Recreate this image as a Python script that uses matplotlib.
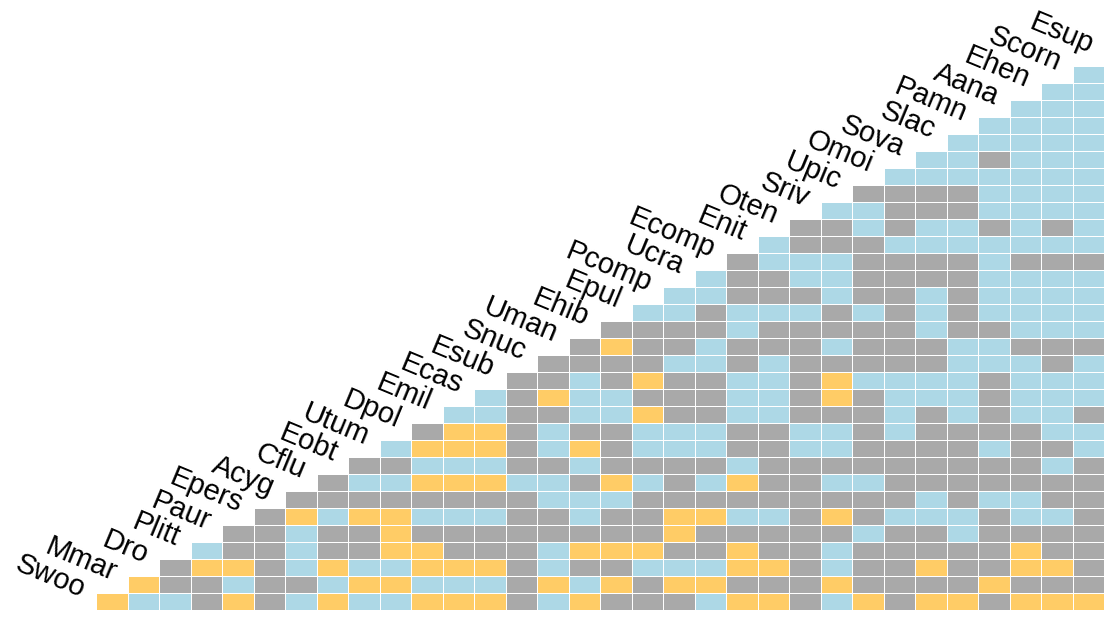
import numpy as np
import matplotlib
matplotlib.use("Agg")
import matplotlib.pyplot as plt
from matplotlib.colors import ListedColormap

# Species, in plotting order (diagonal labels)
species = ["Swoo", "Mmar", "Dro", "Plitt", "Paur", "Epers", "Acyg", "Cflu",
           "Eobt", "Utum", "Dpol", "Emil", "Ecas", "Esub", "Snuc", "Uman",
           "Ehib", "Epul", "Pcomp", "Ucra", "Ecomp", "Enit", "Oten", "Sriv",
           "Upic", "Omoi", "Sova", "Slac", "Pamn", "Aana", "Ehen", "Scorn",
           "Esup"]

# Pair classification for each column (species 2..33), bottom row upward.
# y = negative, g = random, b = positive
pair_columns = [
    "y",
    "by",
    "bgg",
    "ggyb",
    "ybygg",
    "gggggg",
    "bgbbbyg",
    "ybyggbgg",
    "bybggygbg",
    "bybyyygbgb",
    "ybyygbgybyg",
    "ybyggbgybyyb",
    "ybyggbgybyybb",
    "gggggggbgggggg",
    "bybbggbbgbbgygg",
    "ybgygbbgbygbbbgg",
    "gygyggbygggbbggyg",
    "ggbygggbgbbygygggb",
    "gybgyygggbbgggbggbb",
    "bybggygbgbbgggbbggbb",
    "ygyygbgybggbbbggbbggg",
    "ygyggbgggggbbbbggbggbb",
    "gggggggggbbg" + "ggggg" + "bgbbg" + "g",
    "bybbgygbgbbg" + "yygbggbbbg" + "gb",
    "ygggbggbgggg" + "gbgggbgggg" + "bbg",
    "gggggbggggbb" + "bbgggggggb" + "gggb",
    "ygyggbbggggg" + "bbggbbbggb" + "bggbb",
    "ygggbbgggggb" + "bbbbgggggb" + "bggbbb",
    "gyggggbggbgg" + "ggbbgbbbbb" + "gbbbgbb",
    "ygyygbbggggb" + "bbbgbbbbgb" + "bbbbbbbb",
    "ygyggbggbgbb" + "bbggbbbbgb" + "gbbbbbbbb",
    "yggggggggbbg" + "bbbgbbbbgb" + "bbbbbbbbbb",
]

status_code = {"y": 0, "g": 1, "b": 2}
status_colors = ["#FFCC66", "#A9A9A9", "#ADD8E6"]  # negative, random, positive

n = len(pair_columns)
grid = np.full((n, n), np.nan)
for c, col in enumerate(pair_columns):
    for r, s in enumerate(col):
        grid[r, c] = status_code[s]
grid = np.ma.masked_invalid(grid)

fig = plt.figure(figsize=(11.04, 6.19), dpi=100)
ax = fig.add_axes([0, 0, 1, 1])
edges = np.arange(0.5, n + 1.5, 1.0)
ax.pcolormesh(edges, edges, grid, cmap=ListedColormap(status_colors),
              vmin=-0.5, vmax=2.5, edgecolors="white", linewidth=0.7)

for k, name in enumerate(species):
    ax.text(k + 0.02, k + 1.2, name, rotation=-22.5, rotation_mode="anchor",
            ha="right", va="baseline", fontsize=21, family="Liberation Sans",
            color="black")

ax.set_xlim(-2.548, 32.5)
ax.set_ylim(-0.03, 36.38)
ax.axis("off")
fig.savefig("out.png", dpi=100)
